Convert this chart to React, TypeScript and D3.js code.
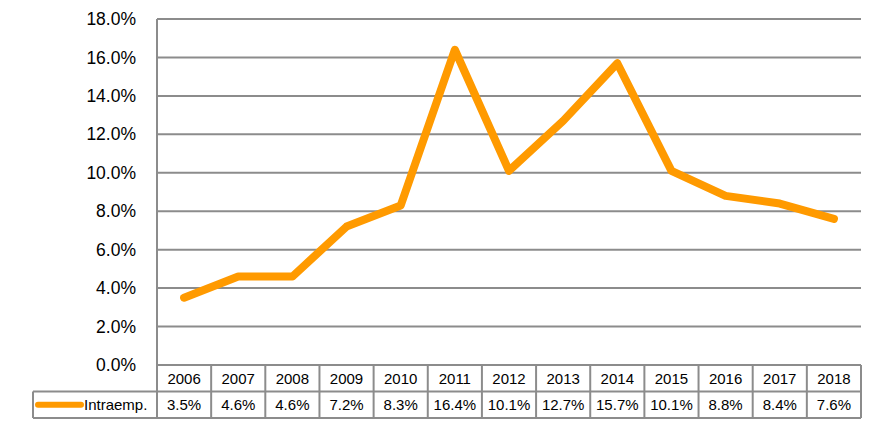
import React, { useEffect, useRef } from 'react';
import * as d3 from 'd3';

const years = ['2006', '2007', '2008', '2009', '2010', '2011', '2012', '2013', '2014', '2015', '2016', '2017', '2018'];
const intraemp = [3.5, 4.6, 4.6, 7.2, 8.3, 16.4, 10.1, 12.7, 15.7, 10.1, 8.8, 8.4, 7.6];
const seriesName = 'Intraemp.';
const yTicks = [0, 2, 4, 6, 8, 10, 12, 14, 16, 18];

const App = () => {
  const ref = useRef<SVGSVGElement>(null);

  useEffect(() => {
    const W = 882;
    const H = 429;
    const left = 157;
    const right = 861;
    const top = 19;
    const bottom = 365;
    const rowH = 26.5;
    const legendLeft = 33;
    const grey = '#8c8c8c';
    const orange = '#ff9a00';
    const font = "'Liberation Sans', Arial, sans-serif";

    const svg = d3.select(ref.current);
    svg.selectAll('*').remove();
    svg.attr('width', W).attr('height', H);

    const x = d3.scaleBand().domain(years).range([left, right]).padding(0);
    const y = d3.scaleLinear().domain([0, 18]).range([bottom, top]);

    // gridlines
    svg
      .append('g')
      .selectAll('line')
      .data(yTicks)
      .enter()
      .append('line')
      .attr('x1', left)
      .attr('x2', right)
      .attr('y1', (d) => y(d))
      .attr('y2', (d) => y(d))
      .attr('stroke', grey)
      .attr('stroke-width', 2);

    // y axis line
    svg
      .append('line')
      .attr('x1', left)
      .attr('x2', left)
      .attr('y1', top)
      .attr('y2', bottom + rowH * 2)
      .attr('stroke', grey)
      .attr('stroke-width', 2);

    // y tick labels
    svg
      .append('g')
      .selectAll('text')
      .data(yTicks)
      .enter()
      .append('text')
      .attr('x', 136)
      .attr('y', (d) => y(d))
      .attr('dy', '0.35em')
      .attr('text-anchor', 'end')
      .attr('font-family', font)
      .attr('font-size', 17.5)
      .attr('fill', '#000')
      .text((d) => d.toFixed(1) + '%');

    // line
    const line = d3
      .line<number>()
      .x((_, i) => (x(years[i]) as number) + x.bandwidth() / 2)
      .y((d) => y(d));

    svg
      .append('path')
      .datum(intraemp)
      .attr('d', line)
      .attr('fill', 'none')
      .attr('stroke', orange)
      .attr('stroke-width', 8)
      .attr('stroke-linejoin', 'round')
      .attr('stroke-linecap', 'round');

    // data table
    const table = svg.append('g');
    const r1 = bottom;
    const r2 = bottom + rowH;
    const r3 = bottom + rowH * 2;

    // horizontal lines
    table.append('line').attr('x1', left).attr('x2', right).attr('y1', r1).attr('y2', r1);
    table.append('line').attr('x1', legendLeft).attr('x2', right).attr('y1', r2).attr('y2', r2);
    table.append('line').attr('x1', legendLeft).attr('x2', right).attr('y1', r3).attr('y2', r3);
    table.append('line').attr('x1', legendLeft).attr('x2', legendLeft).attr('y1', r2).attr('y2', r3);
    table
      .selectAll('.vcol')
      .data(years)
      .enter()
      .append('line')
      .attr('class', 'vcol')
      .attr('x1', (d) => (x(d) as number) + x.bandwidth())
      .attr('x2', (d) => (x(d) as number) + x.bandwidth())
      .attr('y1', r1)
      .attr('y2', r3);
    table.selectAll('line').attr('stroke', grey).attr('stroke-width', 2);

    table
      .selectAll('.yr')
      .data(years)
      .enter()
      .append('text')
      .attr('class', 'yr')
      .attr('x', (d) => (x(d) as number) + x.bandwidth() / 2)
      .attr('y', (r1 + r2) / 2)
      .attr('dy', '0.35em')
      .attr('text-anchor', 'middle')
      .attr('font-family', font)
      .attr('font-size', 15)
      .text((d) => d);

    table
      .selectAll('.val')
      .data(intraemp)
      .enter()
      .append('text')
      .attr('class', 'val')
      .attr('x', (_, i) => (x(years[i]) as number) + x.bandwidth() / 2)
      .attr('y', (r2 + r3) / 2)
      .attr('dy', '0.35em')
      .attr('text-anchor', 'middle')
      .attr('font-family', font)
      .attr('font-size', 15)
      .text((d) => d.toFixed(1) + '%');

    // legend key
    const ly = (r2 + r3) / 2;
    table
      .append('line')
      .attr('x1', 38)
      .attr('x2', 81)
      .attr('y1', ly)
      .attr('y2', ly)
      .attr('stroke', orange)
      .attr('stroke-width', 6)
      .attr('stroke-linecap', 'round');
    table
      .append('text')
      .attr('x', 84)
      .attr('y', ly)
      .attr('dy', '0.35em')
      .attr('font-family', font)
      .attr('font-size', 15)
      .text(seriesName);
  }, []);

  return (
    <svg
      ref={ref}
      style={{ position: 'absolute', left: 0, top: 0, display: 'block' }}
    />
  );
};

export default App;
